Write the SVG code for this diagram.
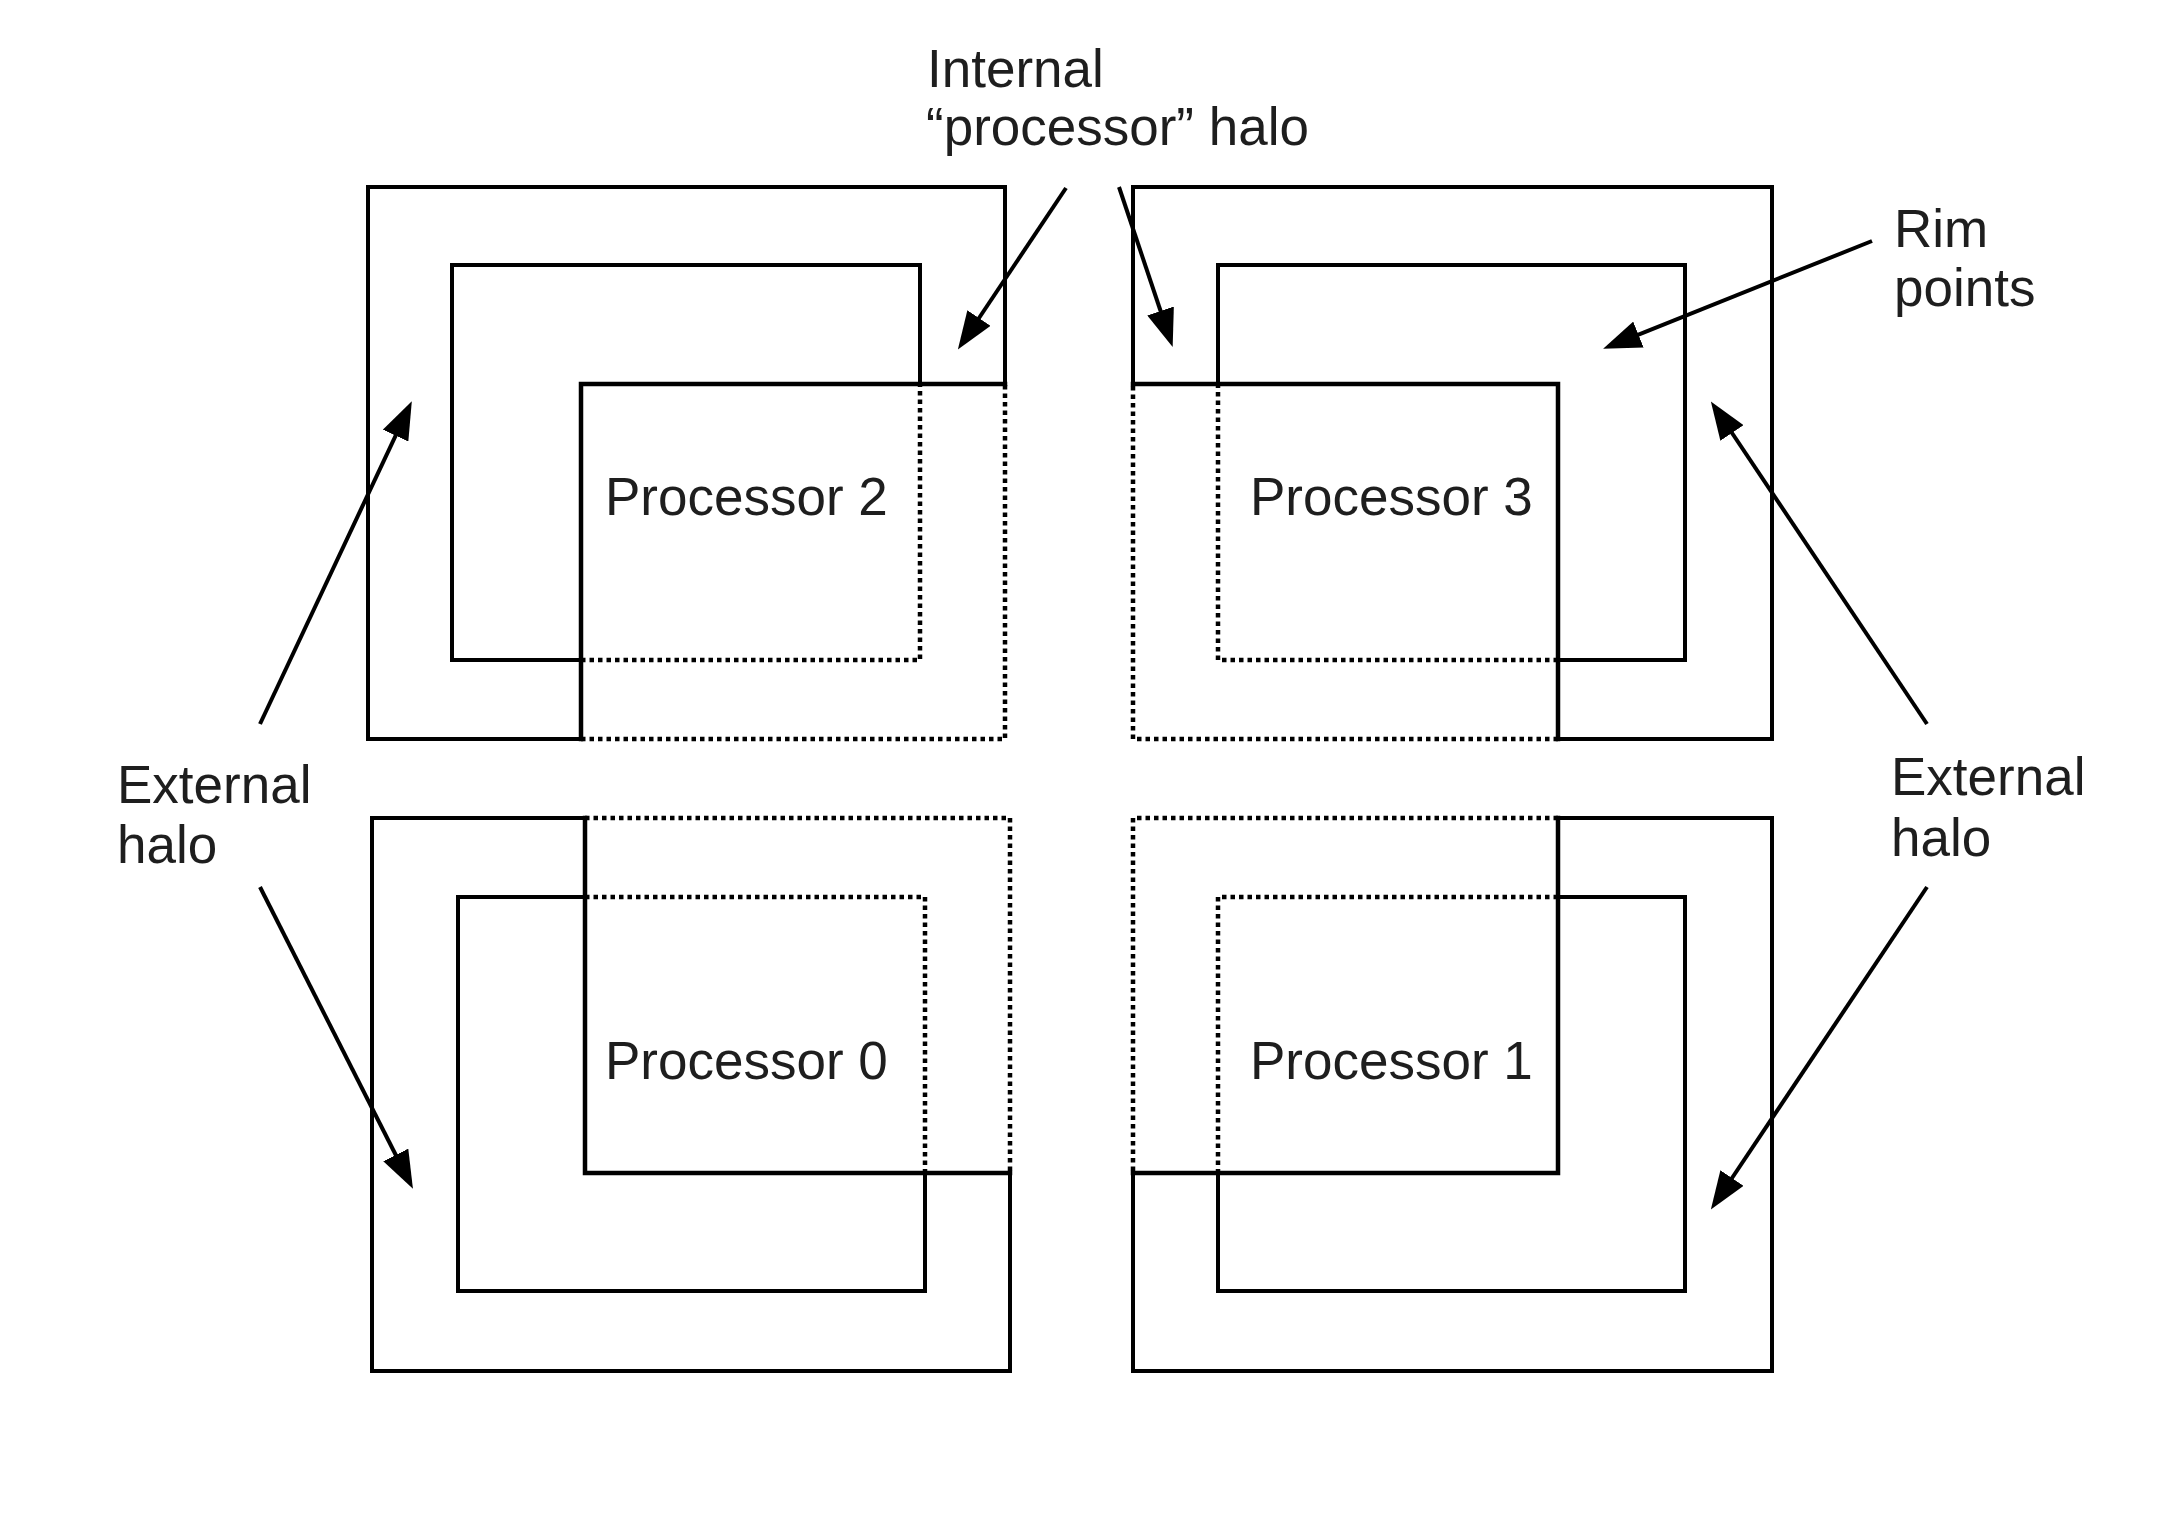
<svg xmlns="http://www.w3.org/2000/svg" width="2168" height="1518" viewBox="0 0 2168 1518">
  <style>
    .solid { fill: none; stroke: #000; stroke-width: 4; stroke-linejoin: miter; stroke-linecap: square; }
    .inner { fill: none; stroke: #000; stroke-width: 4.5; stroke-linejoin: miter; stroke-linecap: square; }
    .dot { fill: none; stroke: #000; stroke-width: 4.5; stroke-dasharray: 4.5 4; }
    .arrow { fill: none; stroke: #000; stroke-width: 4; marker-end: url(#head); }
    .lbl { font-family: "Liberation Sans", Arial, sans-serif; font-size: 53px; fill: #1e1e1e; }
  </style>
  <defs>
    <marker id="head" markerUnits="userSpaceOnUse" markerWidth="38" markerHeight="28" refX="18" refY="14" orient="auto">
      <path d="M0,0 L38,14 L0,28 z" fill="#000"/>
    </marker>
  </defs>
  <rect width="2168" height="1518" fill="#fff"/>

  <g id="processor2">
    <path class="solid" d="M1005,384 V187 H368 V739 H581"/>
    <path class="dot" d="M581,739 H1005 V384"/>
    <path class="solid" d="M920,384 V265 H452 V660 H581"/>
    <path class="dot" d="M581,660 H920 V384"/>
    <path class="inner" d="M581,739 V384 H1005"/>
    <text class="lbl" x="605" y="515">Processor 2</text>
  </g>

  <g id="processor3">
    <path class="solid" d="M1133,384 V187 H1772 V739 H1558"/>
    <path class="dot" d="M1558,739 H1133 V384"/>
    <path class="solid" d="M1218,384 V265 H1685 V660 H1558"/>
    <path class="dot" d="M1558,660 H1218 V384"/>
    <path class="inner" d="M1133,384 H1558 V739"/>
    <text class="lbl" x="1250" y="515">Processor 3</text>
  </g>

  <g id="processor0">
    <path class="solid" d="M585,818 H372 V1371 H1010 V1173"/>
    <path class="dot" d="M585,818 H1010 V1173"/>
    <path class="solid" d="M585,897 H458 V1291 H925 V1173"/>
    <path class="dot" d="M585,897 H925 V1173"/>
    <path class="inner" d="M585,818 V1173 H1010"/>
    <text class="lbl" x="605" y="1079">Processor 0</text>
  </g>

  <g id="processor1">
    <path class="solid" d="M1558,818 H1772 V1371 H1133 V1173"/>
    <path class="dot" d="M1558,818 H1133 V1173"/>
    <path class="solid" d="M1558,897 H1685 V1291 H1218 V1173"/>
    <path class="dot" d="M1558,897 H1218 V1173"/>
    <path class="inner" d="M1133,1173 H1558 V818"/>
    <text class="lbl" x="1250" y="1079">Processor 1</text>
  </g>

  <g id="labels">
    <text class="lbl" x="927" y="87">Internal</text>
    <text class="lbl" x="926" y="145">“processor” halo</text>
    <text class="lbl" x="1894" y="247">Rim</text>
    <text class="lbl" x="1894" y="306">points</text>
    <text class="lbl" x="117" y="803">External</text>
    <text class="lbl" x="117" y="863">halo</text>
    <text class="lbl" x="1891" y="795">External</text>
    <text class="lbl" x="1891" y="856">halo</text>
  </g>

  <g id="connectors">
    <line class="arrow" x1="1066" y1="188" x2="969" y2="333"/>
    <line class="arrow" x1="1119" y1="187" x2="1166.3" y2="328"/>
    <line class="arrow" x1="1872" y1="241" x2="1621.7" y2="341.3"/>
    <line class="arrow" x1="260" y1="724" x2="403.3" y2="419.3"/>
    <line class="arrow" x1="260" y1="887" x2="403.9" y2="1171"/>
    <line class="arrow" x1="1927" y1="724" x2="1722" y2="418"/>
    <line class="arrow" x1="1927" y1="887" x2="1722" y2="1193"/>
  </g>
</svg>
